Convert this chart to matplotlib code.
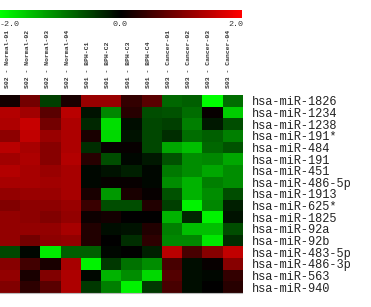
import numpy as np
import matplotlib
matplotlib.use("Agg")
import matplotlib.pyplot as plt
from matplotlib.colors import LinearSegmentedColormap

plt.rcParams["font.monospace"] = ["Liberation Mono", "DejaVu Sans Mono"]

samples = ["S02 - Normal-01", "S02 - Normal-02", "S02 - Normal-03", "S02 - Normal-04",
           "S01 - BPH-C1", "S01 - BPH-C2", "S01 - BPH-C3", "S01 - BPH-C4",
           "S03 - Cancer-01", "S03 - Cancer-02", "S03 - Cancer-03", "S03 - Cancer-04"]

mirnas = ["hsa-miR-1826", "hsa-miR-1234", "hsa-miR-1238", "hsa-miR-191*", "hsa-miR-484",
          "hsa-miR-191", "hsa-miR-451", "hsa-miR-486-5p", "hsa-miR-1913", "hsa-miR-625*",
          "hsa-miR-1825", "hsa-miR-92a", "hsa-miR-92b", "hsa-miR-483-5p", "hsa-miR-486-3p",
          "hsa-miR-563", "hsa-miR-940"]

# log ratio per miRNA (rows) and sample (cols)
values = [
    [0.15, 0.9, -0.5, 0.2, 1.2, 1.2, 0.4, 0.7, -0.8, -0.75, -2.0, -0.85],
    [1.4, 1.25, 0.7, 1.45, -0.15, -1.05, 0.3, -0.6, -0.65, -0.85, 0.05, -1.6],
    [1.35, 1.55, 0.9, 1.35, -0.3, -1.75, -0.1, -0.55, -0.5, -1.0, -0.2, -0.6],
    [1.1, 1.5, 1.2, 1.35, 0.2, -1.7, -0.15, -0.55, -0.35, -0.85, -0.75, -1.0],
    [1.45, 1.3, 1.05, 1.35, -0.35, 0.05, 0.05, -0.55, -1.3, -1.5, -0.8, -0.65],
    [1.25, 1.35, 1.05, 1.4, 0.3, -0.6, -0.05, -0.2, -0.65, -1.1, -1.05, -1.3],
    [1.4, 1.3, 1.2, 1.3, -0.05, -0.15, -0.25, -0.05, -0.95, -1.1, -1.3, -1.1],
    [1.3, 1.3, 1.25, 1.3, -0.05, 0.05, 0.05, -0.05, -1.1, -1.4, -1.0, -1.1],
    [1.15, 1.2, 1.2, 1.3, 0.2, -1.2, 0.2, 0.05, -0.65, -1.4, -1.1, -0.6],
    [1.0, 1.1, 1.1, 1.2, 0.45, -0.6, -0.6, 0.25, -0.5, -1.9, -1.05, -0.25],
    [1.15, 1.1, 1.0, 1.15, 0.1, 0.15, 0.0, 0.0, -1.4, -0.3, -1.9, -0.15],
    [1.15, 1.15, 1.15, 1.3, 0.25, -0.1, -0.15, 0.25, -1.0, -1.5, -1.5, -0.6],
    [1.15, 0.9, 1.1, 1.15, 0.25, 0.0, -0.35, 0.35, -1.05, -1.05, -1.8, -0.35],
    [-0.55, -0.05, -1.85, -0.75, -0.75, -0.05, 0.0, -0.25, 1.45, 0.55, 1.05, 1.5],
    [1.05, 0.5, 0.2, 1.3, -1.9, -0.45, -0.9, -1.1, 0.55, -0.1, 0.05, 1.05],
    [1.15, 0.2, 1.0, 1.35, -0.05, -1.4, -1.1, -1.7, 0.65, -0.1, -0.05, 0.4],
    [1.0, 0.35, 0.7, 1.35, -0.45, -1.0, -1.9, -0.45, 0.55, -0.1, 0.0, 0.3],
]

cmap = LinearSegmentedColormap.from_list("gkr", ["#00ff00", "#000000", "#ff0000"])

W, H = 371, 307
fig = plt.figure(figsize=(W / 100, H / 100), dpi=100)

# heatmap
ax = fig.add_axes([0, (H - 293) / H, 242 / W, 198 / H])
im = ax.imshow(np.array(values), cmap=cmap, vmin=-2, vmax=2, aspect="auto",
               interpolation="nearest")
ax.xaxis.tick_top()
ax.set_xticks(np.arange(len(samples)) - 0.15)
ax.set_xticklabels(samples, rotation=90, fontfamily="monospace", fontsize=4.6,
                   fontweight="bold", color="#333333")
ax.yaxis.tick_right()
ax.set_yticks(np.arange(len(mirnas)))
ax.set_yticklabels(mirnas, fontfamily="monospace", fontsize=8.6, color="#222222")
ax.tick_params(axis="x", length=0, pad=5)
ax.tick_params(axis="y", length=0, pad=7)
for s in ["top", "left", "right"]:
    ax.spines[s].set_visible(False)
ax.spines["bottom"].set_color("#bbbbbb")

# colour bar on top
cax = fig.add_axes([0, (H - 18) / H, 242 / W, 8 / H])
cb = fig.colorbar(im, cax=cax, orientation="horizontal")
cb.outline.set_visible(False)
cax.set_xticks([])

lbl = dict(fontfamily="monospace", fontsize=6, color="#333333", va="center")
fig.text(0 / W, 1 - 24 / H, "-2.0", ha="left", **lbl)
fig.text(120 / W, 1 - 24 / H, "0.0", ha="center", **lbl)
fig.text(243 / W, 1 - 24 / H, "2.0", ha="right", **lbl)

fig.savefig("out.png", dpi=100)
